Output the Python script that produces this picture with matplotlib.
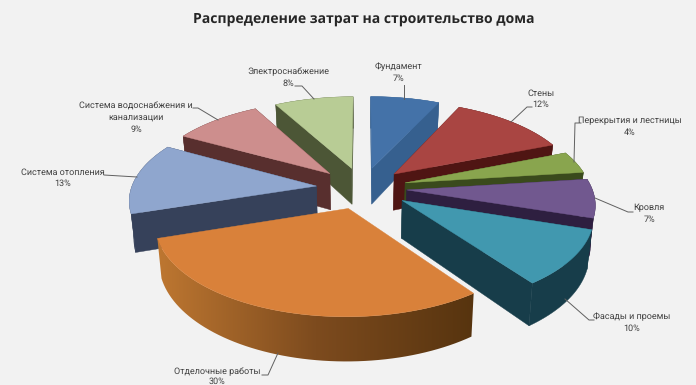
import numpy as np
import matplotlib
matplotlib.use("Agg")
import matplotlib.pyplot as plt
from matplotlib.patches import Polygon
from matplotlib.colors import LinearSegmentedColormap

categories = ["Фундамент", "Стены", "Перекрытия и лестницы", "Кровля", "Фасады и проемы",
              "Отделочные работы", "Система отопления", "Система водоснабжения и\nканализации",
              "Электроснабжение"]
values = [7, 12, 4, 7, 10, 30, 13, 9, 8]
top_colors = ["#4472A8", "#A94542", "#89A54E", "#71588F", "#4198AF",
              "#D9813A", "#8FA6CE", "#CD8E8D", "#B8CC95"]
side_colors = ["#36608F", "#4F1513", "#3A4A1C", "#2E1F40", "#173D4A",
               "#7A4A1C", "#36415A", "#582F2E", "#4C5636"]
draw_order = [8, 0, 7, 1, 2, 3, 6, 4, 5]

# fake 3d: camera numbers fitted by hand to the picture
cx, cy = 362.5, 188
bx, by = 185, 86.8
persp = 0.14
explode = 0.24
height = 37
nudge = [0, 0, 0, 0, 3, 0, -2, -2, 0]

plt.rcParams["font.family"] = ["Open Sans", "DejaVu Sans"]
plt.rcParams["text.hinting"] = "none"
plt.rcParams["text.hinting_factor"] = 1
fig = plt.figure(figsize=(6.96, 3.85), dpi=100, facecolor="#F2F2F2")
ax = fig.add_axes([0, 0, 1, 1])
ax.axis("off")


def project(x, y, low=False):
    w = 1 + persp * y
    px = bx * x / w
    py = -by * y / w
    if low:
        return cx + px * 0.98, cy + py + height / w
    return cx + px, cy + py


bounds = np.cumsum([0] + values) / sum(values) * 2 * np.pi


def slice_points(i):
    a0, a1 = bounds[i], bounds[i + 1]
    mid = (a0 + a1) / 2
    t = np.linspace(a0, a1, 60)
    x = np.r_[0, np.sin(t)] + explode * np.sin(mid)
    y = np.r_[0, np.cos(t)] + explode * np.cos(mid)
    return x, y


rim_cmap = LinearSegmentedColormap.from_list("rim", ["#BE7731", "#7D4B1E", "#57340F"])

z = 2
for i in draw_order:
    x, y = slice_points(i)
    tx, ty = project(x, y)
    lx, ly = project(x, y, low=True)
    tx, lx = tx + nudge[i], lx + nudge[i]
    rim = np.r_[np.c_[tx[1:], ty[1:]], np.c_[lx[1:], ly[1:]][::-1]]
    if i == 5:
        # gradient on the rim of the big slice
        grad = np.linspace(0, 1, 256).reshape(1, -1)
        im = ax.imshow(grad, cmap=rim_cmap, aspect="auto", zorder=z, interpolation="bilinear",
                       extent=[tx.min(), tx.max(), ly.max() + 2, ty.min()])
        im.set_clip_path(Polygon(rim, transform=ax.transData))
    else:
        for n in [1, -1]:
            ax.add_patch(Polygon([(tx[0], ty[0]), (tx[n], ty[n]), (lx[n], ly[n]), (lx[0], ly[0])],
                                 fc=side_colors[i], ec=side_colors[i], lw=0.3, zorder=z))
        ax.add_patch(Polygon(rim, fc=side_colors[i], ec=side_colors[i], lw=0.3, zorder=z))
    ax.add_patch(Polygon(np.c_[tx, ty], fc=top_colors[i], ec=top_colors[i], lw=0.3, zorder=z + 1))
    z += 2

ax.set_xlim(0, 696)
ax.set_ylim(385, 0)

label_pos = [(398, 67), (541, 93), (630, 121), (649, 208), (632, 317),
             (217, 372), (63, 172), (136, 106), (288, 72)]
for i, (name, val, (lx, ly)) in enumerate(zip(categories, values, label_pos)):
    lines = name.split("\n") + [f"{val}%"]
    step = 9.5 if i == 5 else 11.7
    for n, line in enumerate(lines):
        ax.text(lx, ly + n * step, line, ha="center", va="center", fontsize=6.25, family="Roboto",
                color="#404040", zorder=40)

leaders = [
    [(404, 85), (404, 99)],
    [(532, 107), (527, 107), (511, 122)],
    [(581, 123), (575, 123), (574, 162)],
    [(633, 212), (628, 212), (595, 198)],
    [(594, 320), (589, 320), (565, 299)],
    [(262, 375), (268, 375), (278, 353)],
    [(104, 175), (137, 177)],
    [(193, 108), (198, 108), (218, 120)],
    [(295, 86), (302, 86), (314, 99)],
]
for line in leaders:
    xs, ys = zip(*line)
    ax.plot(xs, ys, color="#606060", lw=0.7, zorder=39)

ax.text(363.5, 18.5, "Распределение затрат на строительство дома", ha="center", va="center",
        fontsize=10.15, fontweight="bold", color="#262626", zorder=40)

fig.savefig("out.png", dpi=100, facecolor=fig.get_facecolor())
